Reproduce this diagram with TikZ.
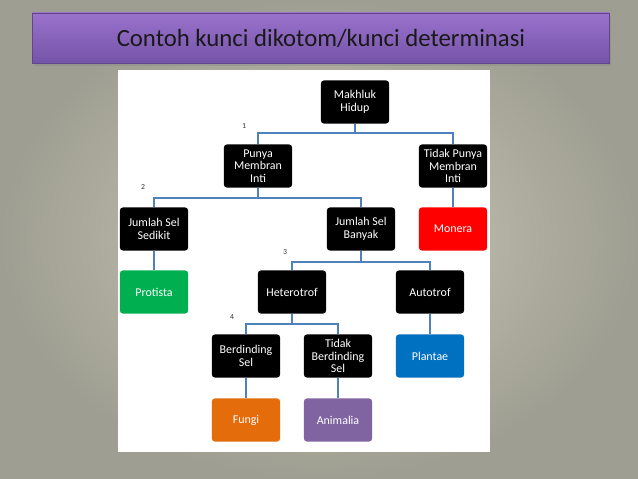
\documentclass[tikz,border=0pt]{standalone}
\usepackage{fontspec}
\setmainfont{Carlito}
\usetikzlibrary{positioning,calc,shadows}
\definecolor{slidemid}{RGB}{204,202,184}
\definecolor{slideedge}{RGB}{158,158,146}
\definecolor{bartop}{RGB}{154,114,204}
\definecolor{barbot}{RGB}{116,84,168}
\definecolor{barline}{RGB}{96,70,140}
\definecolor{linkblue}{RGB}{79,129,189}
\definecolor{keyred}{RGB}{255,0,0}
\definecolor{keygreen}{RGB}{0,176,80}
\definecolor{keyblue}{RGB}{0,112,192}
\definecolor{keyorange}{RGB}{228,108,10}
\definecolor{keypurple}{RGB}{128,100,162}

\begin{document}
\begin{tikzpicture}[x=0.025cm, y=-0.025cm,
    key/.style={rectangle, rounded corners=2pt, fill=black, text=white, minimum width=1.7cm, minimum height=1.075cm, inner sep=1pt, align=center, font=\fontsize{8.5}{8.9}\selectfont},
    taxon/.style={key, fill=#1},
    link/.style={draw=linkblue, line width=1.2pt},
    stepnum/.style={font=\fontsize{5.5}{6}\selectfont, text=black!80, inner sep=0pt},
    titlebar/.style={rectangle, draw=barline, top color=bartop, bottom color=barbot, minimum width=14.425cm, minimum height=1.25cm, font=\fontsize{17.6}{20}\selectfont, text=black!90, drop shadow={shadow xshift=1pt, shadow yshift=-2pt, opacity=0.3}}
]
    % slide and panel
    \useasboundingbox (0,0) rectangle (638,479);
    \shade[inner color=slidemid, outer color=slideedge] (0,0) rectangle (638,479);
    \node[titlebar] (title) at (321,38) {Contoh kunci dikotom/kunci determinasi};
    \fill[white] (118,70) rectangle (490,452);

    % keys
    \node[key] (mh) at (355,102) {Makhluk\\Hidup};
    \node[key] (pmi) at (258,166) {Punya\\Membran\\Inti};
    \node[key] (tpmi) at (453,166) {Tidak Punya\\Membran\\Inti};
    \node[key] (sedikit) at (154,229) {Jumlah Sel\\Sedikit};
    \node[key] (banyak) at (361,229) {Jumlah Sel\\Banyak};
    \node[key] (hetero) at (292,292) {Heterotrof};
    \node[key] (auto) at (430,292) {Autotrof};
    \node[key] (dinding) at (246,356) {Berdinding\\Sel};
    \node[key] (tdinding) at (338,356) {Tidak\\Berdinding\\Sel};

    % kingdoms
    \node[taxon=keyred] (monera) at (453,229) {Monera};
    \node[taxon=keygreen] (protista) at (154,292) {Protista};
    \node[taxon=keyblue] (plantae) at (430,356) {Plantae};
    \node[taxon=keyorange] (fungi) at (246,420) {Fungi};
    \node[taxon=keypurple] (animalia) at (338,420) {Animalia};

    % step numbers
    \node[stepnum] (s1) at (244,126) {1};
    \node[stepnum] (s2) at (143,187) {2};
    \node[stepnum] (s3) at (285,252) {3};
    \node[stepnum] (s4) at (232,317) {4};

    % branches
    \foreach \p/\l/\r/\y in {mh/pmi/tpmi/133, pmi/sedikit/banyak/198, banyak/hetero/auto/262, hetero/dinding/tdinding/324} {
        \coordinate (bus) at (0,\y);
        \draw[link] (\p.south) -- (\p.south |- bus);
        \draw[link] (\l.north) |- (\r.north |- bus) -- (\r.north);
    }
    \foreach \a/\b in {tpmi/monera, sedikit/protista, auto/plantae, dinding/fungi, tdinding/animalia}
        \draw[link] (\a) -- (\b);
\end{tikzpicture}
\end{document}
